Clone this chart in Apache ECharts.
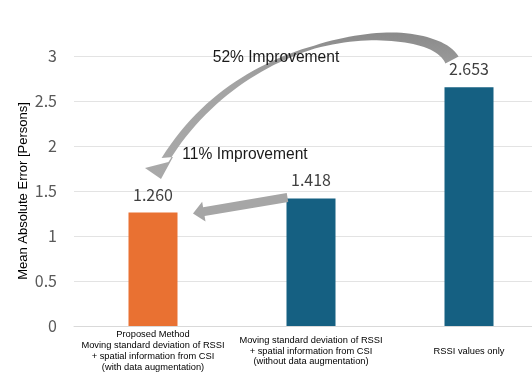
<!DOCTYPE html>
<html>
<head>
<meta charset="utf-8">
<script src="https://cdn.jsdelivr.net/npm/echarts@6/dist/echarts.min.js"></script>
<style>
  html, body { margin: 0; padding: 0; background: #ffffff; }
  #chart { width: 532px; height: 390px; }
</style>
</head>
<body>
<div id="chart"></div>
<script>
// ---- data ----
var categories = [
  'Proposed Method\nMoving standard deviation of RSSI\n+ spatial information from CSI\n(with data augmentation)',
  'Moving standard deviation of RSSI\n+ spatial information from CSI\n(without data augmentation)',
  'RSSI values only'
];
var maeValues = [1.260, 1.418, 2.653];
var barColors = ['#E97132', '#156082', '#156082'];
var yTicks = { min: 0, max: 3, interval: 0.5 };
var yAxisName = 'Mean Absolute Error [Persons]';
var annotations = ['52% Improvement', '11% Improvement'];

// ---- annotation arrow helpers (decoration only) ----
function cubic(p0, p1, p2, p3, t) {
  var u = 1 - t;
  return [
    u*u*u*p0[0] + 3*u*u*t*p1[0] + 3*u*t*t*p2[0] + t*t*t*p3[0],
    u*u*u*p0[1] + 3*u*u*t*p1[1] + 3*u*t*t*p2[1] + t*t*t*p3[1]
  ];
}
function widthAt(t, prof) {
  for (var i = 0; i < prof.length - 1; i++) {
    if (t >= prof[i][0] && t <= prof[i+1][0]) {
      var f = (t - prof[i][0]) / (prof[i+1][0] - prof[i][0]);
      return prof[i][1] + f * (prof[i+1][1] - prof[i][1]);
    }
  }
  return prof[prof.length-1][1];
}
function curvedArrowPath() {
  var P0 = [452, 60], P1 = [430, 18], P2 = [250, 22], P3 = [165, 160];
  var prof = [[0, 15], [0.15, 11], [0.3, 9], [0.45, 5], [0.55, 3], [0.68, 4.5], [0.85, 7], [1, 8]];
  var N = 60, left = [], right = [];
  for (var i = 0; i <= N; i++) {
    var t = i / N;
    var p = cubic(P0, P1, P2, P3, t);
    var q = cubic(P0, P1, P2, P3, Math.min(1, t + 0.001));
    var r = cubic(P0, P1, P2, P3, Math.max(0, t - 0.001));
    var dx = q[0] - r[0], dy = q[1] - r[1];
    var len = Math.sqrt(dx*dx + dy*dy);
    var nx = -dy / len, ny = dx / len;
    var w = widthAt(t, prof) / 2;
    left.push([p[0] + nx*w, p[1] + ny*w]);
    right.push([p[0] - nx*w, p[1] - ny*w]);
  }
  var pts = left.slice();
  var a = left[N];
  var c1 = [145, 168], c2 = [173, 157], tip = [161, 179];
  var dA1 = Math.hypot(a[0]-c1[0], a[1]-c1[1]), dA2 = Math.hypot(a[0]-c2[0], a[1]-c2[1]);
  if (dA1 < dA2) { pts.push(c1, tip, c2); } else { pts.push(c2, tip, c1); }
  for (var j = N; j >= 0; j--) pts.push(right[j]);
  return pts;
}
function straightArrowPath() {
  var tail = [287.5, 197.5], tip = [193, 213.5];
  var dx = tip[0] - tail[0], dy = tip[1] - tail[1];
  var len = Math.sqrt(dx*dx + dy*dy);
  var ux = dx/len, uy = dy/len, nx = -uy, ny = ux;
  var hl = 11, hw = 10, sw = 4.5;
  var base = [tip[0] - ux*hl, tip[1] - uy*hl];
  return [
    [tail[0] + nx*sw, tail[1] + ny*sw],
    [base[0] + nx*sw, base[1] + ny*sw],
    [base[0] + nx*hw, base[1] + ny*hw],
    tip,
    [base[0] - nx*hw, base[1] - ny*hw],
    [base[0] - nx*sw, base[1] - ny*sw],
    [tail[0] - nx*sw, tail[1] - ny*sw]
  ];
}

var chart = echarts.init(document.getElementById('chart'), null, { renderer: 'canvas' });

var option = {
  backgroundColor: '#ffffff',
  animation: false,
  grid: { left: 74, right: -16, top: 56, bottom: 64, containLabel: false, outerBoundsMode: 'none' },
  xAxis: {
    type: 'category',
    data: categories,
    axisLine: { show: true, lineStyle: { color: '#d9d9d9', width: 1 } },
    axisTick: { show: false },
    axisLabel: {
      interval: 0,
      margin: 25,
      verticalAlign: 'middle',
      fontFamily: 'Liberation Sans, Arial, sans-serif',
      fontSize: 9.3,
      lineHeight: 10.8,
      color: '#000000',
      align: 'center'
    }
  },
  yAxis: {
    type: 'value',
    min: yTicks.min,
    max: yTicks.max,
    interval: yTicks.interval,
    name: yAxisName,
    nameLocation: 'middle',
    nameGap: 44,
    nameMoveOverlap: false,
    nameTextStyle: {
      fontFamily: 'Liberation Sans, Arial, sans-serif',
      fontSize: 13,
      color: '#000000'
    },
    axisLine: { show: false },
    axisTick: { show: false },
    axisLabel: {
      margin: 17,
      fontFamily: 'Noto Sans CJK JP, sans-serif',
      fontSize: 16,
      color: '#595959'
    },
    splitLine: { show: true, lineStyle: { color: '#e3e3e3', width: 1 } }
  },
  series: [{
    type: 'bar',
    barWidth: 49,
    data: maeValues.map(function (v, i) {
      return { value: v, itemStyle: { color: barColors[i] } };
    }),
    label: {
      show: true,
      position: 'top',
      distance: 10,
      fontFamily: 'Noto Sans CJK JP, sans-serif',
      fontSize: 16,
      color: '#404040',
      formatter: function (p) { return p.value.toFixed(3); }
    }
  }],
  graphic: [
    {
      type: 'polygon',
      z: 50,
      shape: { points: curvedArrowPath() },
      style: {
        fill: new echarts.graphic.LinearGradient(0, 0, 0, 1, [
          { offset: 0, color: '#8a8a8a' },
          { offset: 0.35, color: '#a4a4a4' },
          { offset: 1, color: '#a9a9a9' }
        ])
      }
    },
    {
      type: 'polygon',
      z: 50,
      shape: { points: straightArrowPath() },
      style: { fill: '#a6a6a6' }
    },
    {
      type: 'text',
      z: 60,
      x: 276, y: 58,
      style: {
        text: annotations[0],
        fontFamily: 'Liberation Sans, Arial, sans-serif',
        fontSize: 15.6,
        fill: '#1a1a1a',
        align: 'center',
        verticalAlign: 'middle'
      }
    },
    {
      type: 'text',
      z: 60,
      x: 245, y: 155,
      style: {
        text: annotations[1],
        fontFamily: 'Liberation Sans, Arial, sans-serif',
        fontSize: 15.6,
        fill: '#1a1a1a',
        align: 'center',
        verticalAlign: 'middle'
      }
    }
  ]
};
chart.setOption(option);
</script>
</body>
</html>
